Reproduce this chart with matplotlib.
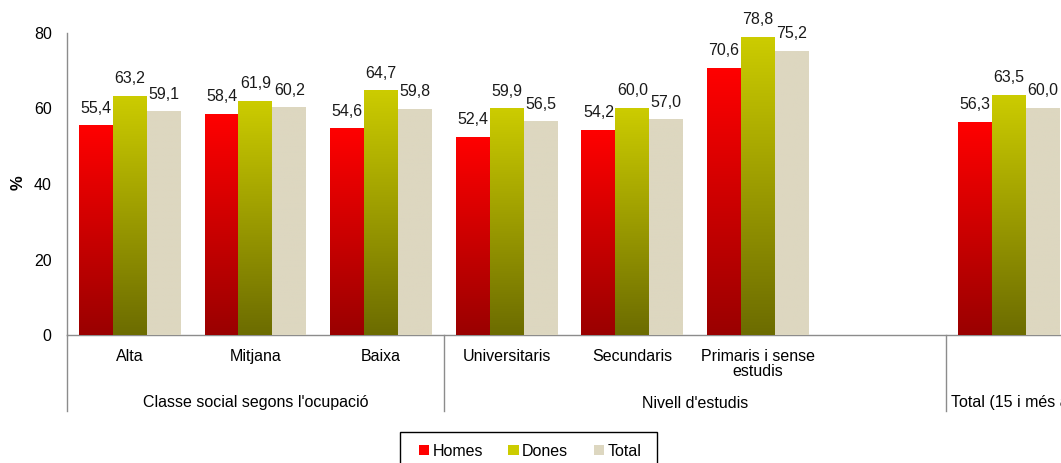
import numpy as np
import matplotlib
matplotlib.use("Agg")
import matplotlib.pyplot as plt
import matplotlib.transforms as mtransforms
from matplotlib.colors import LinearSegmentedColormap
from matplotlib.patches import Patch, Rectangle

plt.rcParams['font.family'] = ['Liberation Sans', 'DejaVu Sans']

# Dades
categories = ['Alta', 'Mitjana', 'Baixa', 'Universitaris', 'Secundaris',
              'Primaris i sense\nestudis', '', '']
homes = [55.4, 58.4, 54.6, 52.4, 54.2, 70.6, np.nan, 56.3]
dones = [63.2, 61.9, 64.7, 59.9, 60.0, 78.8, np.nan, 63.5]
total = [59.1, 60.2, 59.8, 56.5, 57.0, 75.2, np.nan, 60.0]
grups = ["Classe social segons l'ocupació", "Nivell d'estudis", "Total (15 i més anys)"]
limits_grups = [-0.5, 2.5, 6.5, 7.5]

fs = 11.5

fig = plt.figure(figsize=(10.61, 4.63), dpi=100)
ax = fig.add_axes([67 / 1061, 128 / 463, 1005 / 1061, 302 / 463])

x = np.arange(len(categories))
w = 0.27

# colors: (dalt, baix) per al degradat
estils = [
    ('Homes', homes, ('#ff0000', '#9a0000')),
    ('Dones', dones, ('#cccc00', '#6c6c00')),
    ('Total', total, ('#ddd7c0', '#ddd7c0')),
]

for i, (nom, vals, (c_dalt, c_baix)) in enumerate(estils):
    bars = ax.bar(x + (i - 1) * w, vals, width=w, color=c_dalt, zorder=2)
    cmap = LinearSegmentedColormap.from_list(nom, [c_baix, c_dalt])
    grad = np.linspace(0, 1, 256).reshape(-1, 1)
    for b, v in zip(bars, vals):
        if np.isnan(v):
            continue
        x0 = b.get_x()
        ax.imshow(grad, cmap=cmap, origin='lower', aspect='auto',
                  extent=[x0, x0 + b.get_width(), 0, b.get_height()], zorder=3)
        ax.annotate(f"{v:.1f}".replace('.', ','), (x0 + b.get_width() / 2, v),
                    xytext=(0, 9.5), textcoords='offset points',
                    ha='center', va='baseline', fontsize=fs, color='#1a1a1a', zorder=4)

ax.set_xlim(-0.5, 7.5)
ax.set_ylim(0, 80)
ax.set_yticks([0, 20, 40, 60, 80])
ax.set_xticks(x)
ax.set_xticklabels(categories, fontsize=fs, linespacing=1.0)
ax.tick_params(axis='x', length=0, pad=10)
ax.tick_params(axis='y', length=0, pad=11, labelsize=fs)

for s in ['top', 'right']:
    ax.spines[s].set_visible(False)
for s in ['left', 'bottom']:
    ax.spines[s].set_color('#8c8c8c')
    ax.spines[s].set_linewidth(1)

# separadors de grups i etiquetes de grup
trans = mtransforms.blended_transform_factory(ax.transData, ax.transAxes)
for xl in limits_grups[:-1]:
    ax.plot([xl, xl], [0, -76 / 302], transform=trans, color='#8c8c8c',
            lw=1, clip_on=False)
for j, g in enumerate(grups):
    if j < 2:
        xc = (limits_grups[j] + limits_grups[j + 1]) / 2
        ax.text(xc, -68 / 302, g, transform=trans, ha='center', va='center', fontsize=fs)
    else:
        ax.text(limits_grups[j] + 0.04, -68 / 302, g, transform=trans,
                ha='left', va='center', fontsize=fs)

fig.text(18 / 1061, 1 - 183 / 463, '%', rotation=90, ha='center', va='center',
         fontsize=12, fontweight='bold')

# llegenda amb marc
handles = [Patch(facecolor=c[0], edgecolor='none') for _, _, c in estils]
leg = fig.legend(handles, [e[0] for e in estils], loc='center',
                 bbox_to_anchor=(530 / 1061, 1 - 451 / 463), ncol=3, fontsize=fs,
                 frameon=False, handlelength=0.65, handleheight=0.65,
                 handletextpad=0.2, columnspacing=1.6, borderaxespad=0)
fig.patches.append(Rectangle((400 / 1061, -10 / 463), 257 / 1061, 41 / 463,
                             transform=fig.transFigure, fill=False,
                             edgecolor='black', lw=1))

fig.savefig('out.png', dpi=100)
